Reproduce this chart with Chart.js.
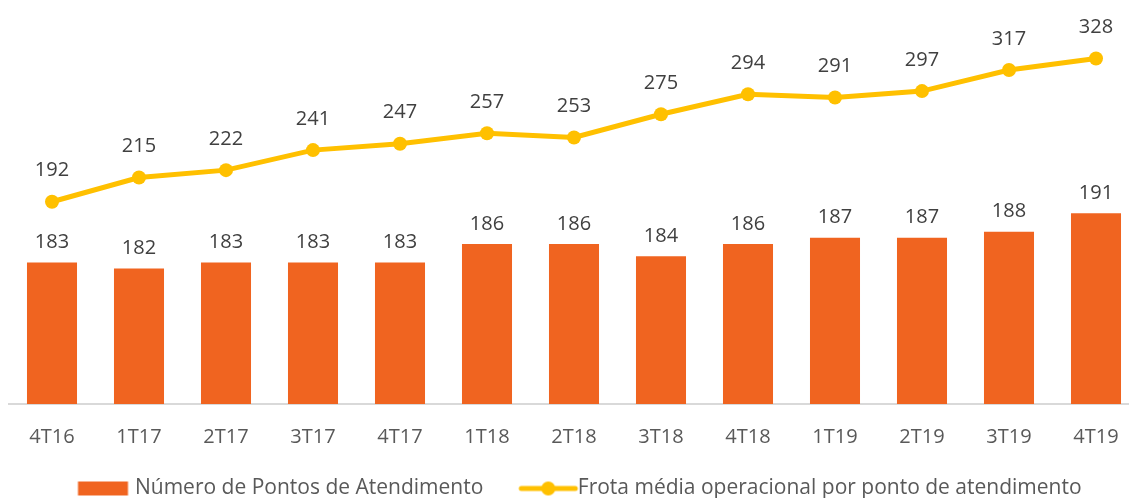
<!DOCTYPE html>
<html>
<head>
<meta charset="utf-8">
<script src="https://cdn.jsdelivr.net/npm/chart.js@4/dist/chart.umd.min.js"></script>
<style>
  html, body { margin: 0; padding: 0; background: #ffffff; overflow: hidden; }
  #wrap { position: absolute; left: 0; top: 0; width: 1148px; height: 498px; }
</style>
</head>
<body>
<div id="wrap"><canvas id="c"></canvas></div>
<script>
const categories = ['4T16','1T17','2T17','3T17','4T17','1T18','2T18','3T18','4T18','1T19','2T19','3T19','4T19'];
const pontosAtendimento = [183,182,183,183,183,186,186,184,186,187,187,188,191];
const frotaMedia = [192,215,222,241,247,257,253,275,294,291,297,317,328];
const seriesNames = ['Número de Pontos de Atendimento', 'Frota média operacional por ponto de atendimento'];

const BAR_COLOR = '#F06420';
const LINE_COLOR = '#FFC000';
const FONT = "'Open Sans', sans-serif";

function makeBarImg() {
  const c = document.createElement('canvas');
  c.width = 160; c.height = 16;
  const g = c.getContext('2d');
  g.fillStyle = BAR_COLOR;
  g.fillRect(74.5, 1, 50, 14);
  return c;
}
function makeLineImg() {
  const c = document.createElement('canvas');
  c.width = 160; c.height = 16;
  const g = c.getContext('2d');
  g.strokeStyle = LINE_COLOR;
  g.lineWidth = 5;
  g.lineCap = 'round';
  g.beginPath(); g.moveTo(75, 8); g.lineTo(129, 8); g.stroke();
  g.fillStyle = LINE_COLOR;
  g.beginPath(); g.arc(102, 8, 7, 0, Math.PI * 2); g.fill();
  return c;
}
const barImg = makeBarImg();
const lineImg = makeLineImg();

const labelPlugin = {
  id: 'valueLabels',
  afterDatasetsDraw(chart) {
    const ctx = chart.ctx;
    ctx.save();
    ctx.font = '20px ' + FONT;
    ctx.fillStyle = '#404040';
    ctx.textAlign = 'center';
    ctx.textBaseline = 'middle';
    chart.data.datasets.forEach((ds, di) => {
      const meta = chart.getDatasetMeta(di);
      meta.data.forEach((el, i) => {
        const off = ds.type === 'bar' ? 20 : 31;
        ctx.fillText(String(ds.data[i]), el.x, el.y - off);
      });
    });
    ctx.restore();
  }
};

const legendShift = {
  id: 'legendShift',
  afterLayout(chart) {
    const l = chart.legend;
    if (!l) return;
    l.top += 6; l.bottom += 6;
    l.left -= 12; l.right -= 12;
  }
};

new Chart(document.getElementById('c'), {
  data: {
    labels: categories,
    datasets: [
      {
        type: 'bar',
        label: seriesNames[0],
        data: pontosAtendimento,
        backgroundColor: BAR_COLOR,
        yAxisID: 'yBar',
        barPercentage: 0.575,
        categoryPercentage: 1,
        order: 2
      },
      {
        type: 'line',
        label: seriesNames[1],
        data: frotaMedia,
        borderColor: LINE_COLOR,
        backgroundColor: LINE_COLOR,
        borderWidth: 5,
        pointRadius: 7,
        pointHoverRadius: 7,
        pointBackgroundColor: LINE_COLOR,
        pointBorderWidth: 0,
        tension: 0,
        yAxisID: 'yLine',
        order: 1
      }
    ]
  },
  options: {
    responsive: true,
    maintainAspectRatio: false,
    animation: false,
    events: [],
    layout: { padding: { left: 8.5, right: 8.5, top: 10, bottom: -5 } },
    scales: {
      x: {
        grid: { display: false, drawTicks: false },
        border: { display: true, color: '#D9D9D9', width: 2 },
        ticks: { color: '#595959', font: { family: FONT, size: 20 }, padding: 21 }
      },
      yBar: { display: false, min: 160, max: 224 },
      yLine: { display: false, min: 0, max: 374 }
    },
    plugins: {
      tooltip: { enabled: false },
      legend: {
        position: 'bottom',
        labels: {
          usePointStyle: true,
          pointStyleWidth: 82,
          padding: 2,
          color: '#595959',
          font: { family: FONT, size: 21 },
          generateLabels() {
            return [
              { text: seriesNames[0], pointStyle: barImg, fillStyle: BAR_COLOR, strokeStyle: 'transparent', lineWidth: 0, hidden: false, datasetIndex: 0, fontColor: '#595959' },
              { text: seriesNames[1], pointStyle: lineImg, fillStyle: LINE_COLOR, strokeStyle: 'transparent', lineWidth: 0, hidden: false, datasetIndex: 1, fontColor: '#595959' }
            ];
          }
        }
      }
    }
  },
  plugins: [labelPlugin, legendShift]
});
</script>
</body>
</html>
